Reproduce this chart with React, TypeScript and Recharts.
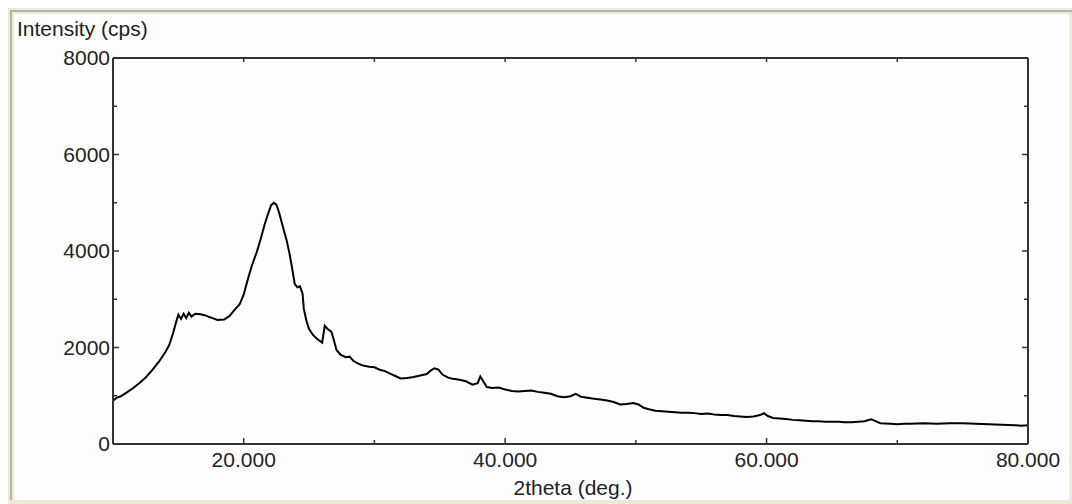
import React from "react";
import { LineChart, Line, XAxis, YAxis } from "recharts";

// 2theta (deg.) positions
const theta = [
  10.0, 10.3, 10.6, 11.0, 11.5, 12.0, 12.5, 13.0, 13.5, 14.0, 14.3, 14.6, 14.8,
  15.0, 15.2, 15.4, 15.6, 15.8, 16.0, 16.3, 16.7, 17.0, 17.5, 18.0, 18.5, 18.9,
  19.3, 19.7, 20.0, 20.3, 20.6, 21.0, 21.3, 21.6, 21.9, 22.1, 22.3, 22.5, 22.7,
  22.9, 23.1, 23.3, 23.5, 23.7, 23.9, 24.1, 24.3, 24.5, 24.6, 24.8, 25.0, 25.3,
  25.6, 26.0, 26.2, 26.4, 26.7, 26.9, 27.1, 27.4, 27.8, 28.1, 28.4, 28.8, 29.2,
  29.6, 30.0, 30.4, 30.8, 31.2, 31.6, 32.0, 32.5, 33.0, 33.5, 34.0, 34.3, 34.6,
  34.9, 35.2, 35.6, 36.0, 36.5, 37.0, 37.5, 37.9, 38.1, 38.3, 38.6, 39.0, 39.5,
  40.0, 40.5, 41.0, 41.5, 42.0, 42.5, 43.0, 43.5, 44.0, 44.5, 45.0, 45.4, 45.8,
  46.3, 46.8, 47.3, 47.8, 48.3, 48.8, 49.3, 49.8, 50.2, 50.6, 51.0, 51.5, 52.0,
  52.5, 53.0, 53.5, 54.0, 54.5, 55.0, 55.5, 56.0, 56.5, 57.0, 57.5, 58.0, 58.5,
  59.0, 59.5, 59.8, 60.1, 60.5, 61.0, 61.5, 62.0, 62.5, 63.0, 63.5, 64.0, 64.5,
  65.0, 65.5, 66.0, 66.5, 67.0, 67.5, 68.0, 68.3, 68.7, 69.5, 70.0, 70.5, 71.0,
  72.0, 73.0, 74.0, 75.0, 76.0, 77.0, 78.0, 79.0, 79.5, 80.0,
];

// intensity (cps)
const intensity = [
  900, 960, 990, 1060, 1150, 1260, 1380, 1530, 1700, 1900, 2050, 2300, 2500,
  2680, 2590, 2700, 2610, 2720, 2640, 2700, 2690, 2670, 2620, 2570, 2580, 2650,
  2780, 2900, 3100, 3400, 3680, 3980, 4250, 4550, 4800, 4950, 5000, 4960, 4800,
  4600, 4400, 4200, 3950, 3650, 3320, 3250, 3270, 3120, 2800, 2550, 2380, 2260,
  2180, 2100, 2450, 2390, 2330, 2150, 1950, 1850, 1800, 1810, 1720, 1660, 1620,
  1600, 1590, 1540, 1510, 1460, 1410, 1360, 1370, 1390, 1420, 1450, 1520, 1570,
  1540, 1440, 1380, 1350, 1330, 1300, 1230, 1260, 1400, 1310, 1180, 1160, 1170,
  1130, 1100, 1090, 1100, 1110, 1080, 1060, 1040, 990, 970, 990, 1040, 980,
  960, 940, 920, 900, 870, 820, 830, 850, 820, 750, 720, 690, 680,
  670, 660, 650, 650, 640, 620, 630, 610, 600, 600, 580, 570, 560,
  570, 600, 640, 580, 540, 530, 520, 500, 490, 480, 470, 470, 460,
  460, 460, 450, 450, 460, 470, 510, 480, 430, 420, 410, 420, 420,
  430, 420, 430, 430, 420, 410, 400, 390, 380, 390,
];

const xTicks = [20, 30, 40, 50, 60, 70, 80];
const xLabelTicks = [20, 40, 60, 80];
const yTicks = [0, 1000, 2000, 3000, 4000, 5000, 6000, 7000, 8000];
const yLabelTicks = [0, 2000, 4000, 6000, 8000];

const data = theta.map((t, i) => ({ t, cps: intensity[i] }));

const FONT = "'Liberation Sans', Arial, sans-serif";
const INK = "#333";

const BottomTick = (props: any) => {
  const { x, y, payload } = props;
  const v = payload.value;
  const len = v % 20 === 0 ? 6 : 4;
  return (
    <g>
      {v < 80 && <line x1={x} y1={y} x2={x} y2={y - len} stroke={INK} strokeWidth={1.5} />}
      {xLabelTicks.includes(v) && (
        <text x={x} y={y + 23} textAnchor="middle" fontSize={21} fontFamily={FONT} fill="#222">
          {v.toFixed(3)}
        </text>
      )}
    </g>
  );
};

const TopTick = (props: any) => {
  const { x, y, payload } = props;
  if (payload.value >= 80) return <g />;
  return <line x1={x} y1={y} x2={x} y2={y + 4} stroke={INK} strokeWidth={1.5} />;
};

const LeftTick = (props: any) => {
  const { x, y, payload } = props;
  const v = payload.value;
  const major = v % 2000 === 0;
  return (
    <g>
      {v > 0 && v < 8000 && (
        <line x1={x} y1={y} x2={x + (major ? 6 : 4)} y2={y} stroke={INK} strokeWidth={1.5} />
      )}
      {yLabelTicks.includes(v) && (
        <text x={x - 3} y={y + 7} textAnchor="end" fontSize={21} fontFamily={FONT} fill="#222">
          {v}
        </text>
      )}
    </g>
  );
};

const RightTick = (props: any) => {
  const { x, y, payload } = props;
  const v = payload.value;
  if (v <= 0 || v >= 8000) return <g />;
  const len = v % 2000 === 0 ? 6 : 4;
  return <line x1={x} y1={y} x2={x - len} y2={y} stroke={INK} strokeWidth={1.5} />;
};

export default function App() {
  return (
    <div style={{ position: "absolute", left: 0, top: 0, width: 1072, height: 504, background: "#fff" }}>
      {/* window frame */}
      <div style={{ position: "absolute", left: 8, top: 8, width: 1064, height: 496, background: "#ece9d8" }} />
      <div style={{ position: "absolute", left: 10, top: 10, width: 1062, height: 2, background: "#b9b4a2" }} />
      <div style={{ position: "absolute", left: 10, top: 10, width: 2, height: 490, background: "#b9b4a2" }} />
      <div style={{ position: "absolute", left: 14, top: 14, width: 1055, height: 486, background: "#fdfdfd" }} />

      <div
        style={{
          position: "absolute",
          left: 17,
          top: 17,
          fontFamily: FONT,
          fontSize: 21,
          color: "#222",
          whiteSpace: "nowrap",
        }}
      >
        Intensity (cps)
      </div>
      <div
        style={{
          position: "absolute",
          left: 573,
          top: 476,
          transform: "translateX(-50%)",
          fontFamily: FONT,
          fontSize: 21,
          color: "#222",
          whiteSpace: "nowrap",
        }}
      >
        2theta (deg.)
      </div>

      <div style={{ position: "absolute", left: 0, top: 0 }}>
        <LineChart
          width={1072}
          height={504}
          data={data}
          margin={{ top: 57, right: 43, bottom: 59, left: 112 }}
        >
          <XAxis
            xAxisId="b"
            dataKey="t"
            type="number"
            domain={[10, 80]}
            ticks={xTicks}
            allowDataOverflow
            height={1}
            tickSize={0}
            tickMargin={0}
            tickLine={false}
            axisLine={{ stroke: INK, strokeWidth: 2 }}
            tick={BottomTick}
            interval={0}
          />
          <XAxis
            xAxisId="t"
            orientation="top"
            dataKey="t"
            type="number"
            domain={[10, 80]}
            ticks={xTicks}
            allowDataOverflow
            height={1}
            tickSize={0}
            tickMargin={0}
            tickLine={false}
            axisLine={{ stroke: INK, strokeWidth: 2 }}
            tick={TopTick}
            interval={0}
          />
          <YAxis
            yAxisId="l"
            type="number"
            domain={[0, 8000]}
            ticks={yTicks}
            allowDataOverflow
            width={1}
            tickSize={0}
            tickMargin={0}
            tickLine={false}
            axisLine={{ stroke: INK, strokeWidth: 2 }}
            tick={LeftTick}
            interval={0}
          />
          <YAxis
            yAxisId="r"
            orientation="right"
            type="number"
            domain={[0, 8000]}
            ticks={yTicks}
            allowDataOverflow
            width={1}
            tickSize={0}
            tickMargin={0}
            tickLine={false}
            axisLine={{ stroke: INK, strokeWidth: 2 }}
            tick={RightTick}
            interval={0}
          />
          <Line
            xAxisId="b"
            yAxisId="l"
            dataKey="cps"
            type="linear"
            stroke="#000"
            strokeWidth={2}
            dot={false}
            isAnimationActive={false}
          />
          <Line
            xAxisId="t"
            yAxisId="r"
            dataKey="cps"
            type="linear"
            stroke="none"
            dot={false}
            activeDot={false}
            isAnimationActive={false}
          />
        </LineChart>
      </div>
    </div>
  );
}
